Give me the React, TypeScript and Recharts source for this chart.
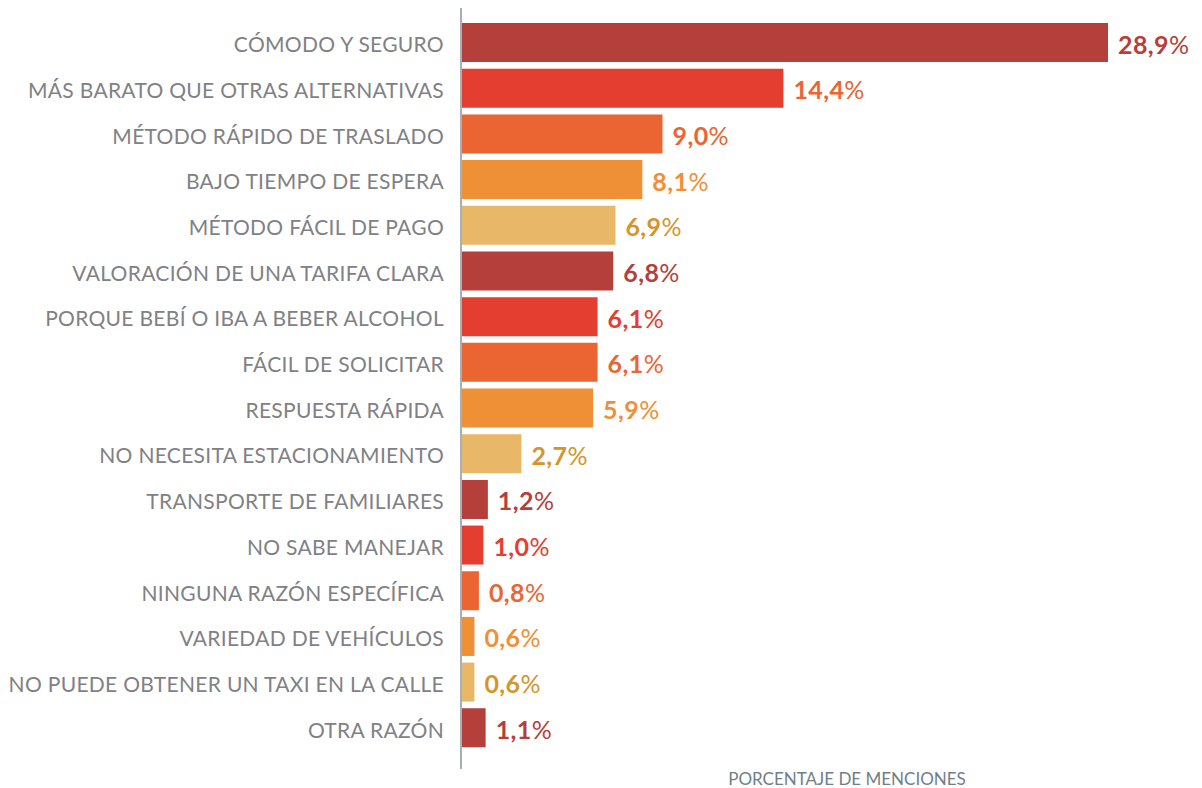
import { Bar, BarChart, Cell, LabelList, XAxis, YAxis } from "recharts"

const categories = [
  "CÓMODO Y SEGURO",
  "MÁS BARATO QUE OTRAS ALTERNATIVAS",
  "MÉTODO RÁPIDO DE TRASLADO",
  "BAJO TIEMPO DE ESPERA",
  "MÉTODO FÁCIL DE PAGO",
  "VALORACIÓN DE UNA TARIFA CLARA",
  "PORQUE BEBÍ O IBA A BEBER ALCOHOL",
  "FÁCIL DE SOLICITAR",
  "RESPUESTA RÁPIDA",
  "NO NECESITA ESTACIONAMIENTO",
  "TRANSPORTE DE FAMILIARES",
  "NO SABE MANEJAR",
  "NINGUNA RAZÓN ESPECÍFICA",
  "VARIEDAD DE VEHÍCULOS",
  "NO PUEDE OBTENER UN TAXI EN LA CALLE",
  "OTRA RAZÓN",
]

const values = [28.9, 14.4, 9.0, 8.1, 6.9, 6.8, 6.1, 6.1, 5.9, 2.7, 1.2, 1.0, 0.8, 0.6, 0.6, 1.1]

const barColors = [
  "#b53f3b", "#e33e30", "#eb6533", "#ef8f36", "#e8b768",
  "#b53f3b", "#e33e30", "#eb6533", "#ef8f36", "#e8b768",
  "#b53f3b", "#e33e30", "#eb6533", "#ef8f36", "#e8b768",
  "#b53f3b",
]

const labelColors = [
  "#b53f3b", "#eb6533", "#eb6533", "#ef8f36", "#d4952b",
  "#b53f3b", "#e33e30", "#eb6533", "#ef8f36", "#d4952b",
  "#b53f3b", "#e33e30", "#eb6533", "#ef8f36", "#d4952b",
  "#b53f3b",
]

const axisTitle = "PORCENTAJE DE MENCIONES"

const data = categories.map((name, i) => ({ name, value: values[i] }))

const font = "Lato, 'Open Sans', sans-serif"

function ValueLabel(props: any) {
  const { x, y, width, height, value, index } = props
  const color = labelColors[index] ?? "#b53f3b"
  const txt = Number(value).toFixed(1).replace(".", ",")
  return (
    <text
      x={Number(x) + Number(width) + 10}
      y={Number(y) + Number(height) / 2 + 1}
      dominantBaseline="central"
      fill={color}
      fontFamily={font}
      fontSize={25}
      letterSpacing={0.4}
    >
      <tspan fontWeight="bold">{txt}</tspan>
      <tspan>%</tspan>
    </text>
  )
}

export default function App() {
  return (
    <div style={{ position: "absolute", left: 0, top: 0, width: 1202, height: 788, background: "#fff" }}>
      <BarChart
        width={1202}
        height={788}
        data={data}
        layout="vertical"
        margin={{ top: 8, right: 94, bottom: 19, left: 0 }}
      >
        <XAxis type="number" domain={[0, 28.9]} hide />
        <YAxis
          type="category"
          dataKey="name"
          width={461}
          padding={{ top: 12, bottom: 18 }}
          axisLine={{ stroke: "#a7b0b4", strokeWidth: 2 }}
          tickLine={false}
          tickSize={6}
          tickMargin={11}
          interval={0}
          tick={{ fill: "#7f8184", fontSize: 21, fontFamily: font, letterSpacing: 0.3, dy: 2 }}
        />
        <Bar dataKey="value" barSize={39} isAnimationActive={false}>
          {data.map((d, i) => (
            <Cell key={d.name} fill={barColors[i]} />
          ))}
          <LabelList dataKey="value" content={ValueLabel} />
        </Bar>
      </BarChart>
      <div
        style={{
          position: "absolute",
          left: 727,
          top: 768,
          width: 240,
          textAlign: "center",
          fontFamily: font,
          fontSize: 17,
          color: "#708088",
          whiteSpace: "nowrap",
        }}
      >
        {axisTitle}
      </div>
    </div>
  )
}
